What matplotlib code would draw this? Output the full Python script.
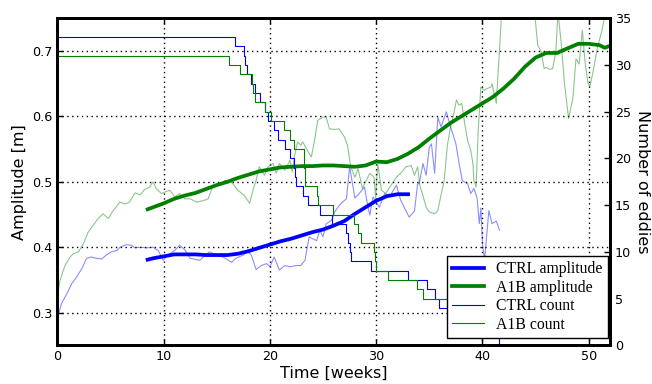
import matplotlib
matplotlib.use("Agg")
import matplotlib.pyplot as plt

# smoothed amplitudes [m]
ctrl_amp_weeks = [8.5, 9, 10, 11, 12, 13, 14, 15, 16, 17, 18, 19, 20, 21, 22, 23, 24, 25,
                  26, 27, 28, 29, 30, 31, 32, 33]
ctrl_amp = [0.381, 0.383, 0.386, 0.389, 0.389, 0.389, 0.388, 0.388, 0.388, 0.390, 0.394,
            0.399, 0.404, 0.409, 0.413, 0.418, 0.423, 0.427, 0.433, 0.440, 0.451, 0.461,
            0.471, 0.478, 0.481, 0.481]

a1b_amp_weeks = [8.5, 9, 10, 11, 12, 13, 14, 15, 16, 17, 18, 19, 20, 21, 22, 23, 24, 25, 26,
                 27, 28, 29, 30, 31, 32, 33, 34, 35, 36, 37, 38, 39, 40, 41, 42, 43, 44, 45,
                 46, 47, 48, 49, 50, 51, 51.5, 52]
a1b_amp = [0.458, 0.461, 0.467, 0.474, 0.479, 0.483, 0.489, 0.495, 0.500, 0.506, 0.511,
           0.516, 0.519, 0.522, 0.523, 0.524, 0.524, 0.525, 0.525, 0.524, 0.523, 0.525,
           0.531, 0.530, 0.535, 0.543, 0.553, 0.566, 0.578, 0.590, 0.600, 0.610, 0.620,
           0.630, 0.643, 0.658, 0.676, 0.690, 0.697, 0.697, 0.704, 0.711, 0.711, 0.709,
           0.705, 0.708]

# raw amplitudes [m]
ctrl_raw_weeks = [0, 0.4, 0.9, 1.35, 1.8, 2.3, 2.75, 3.2, 3.7, 4.2, 4.6, 5.1, 5.6, 5.9, 6.5,
                  7.0, 7.3, 7.8, 8.4, 9.0, 9.5, 9.95, 10.4, 11.05, 11.5, 12.0, 12.5, 13.4,
                  14.3, 15.0, 15.6, 16.4, 16.8, 17.5, 17.9, 18.25, 18.7, 19.2, 19.7, 20.0,
                  20.4, 20.9, 21.4, 21.9, 22.5, 22.9, 23.3, 23.5, 23.7, 24.0, 24.4, 24.7,
                  25.0, 25.3, 25.8, 26.1, 26.4, 26.7, 27.2, 27.5, 28.0, 28.4, 28.9, 29.2,
                  29.4, 29.7, 30.3, 30.8, 31.3, 31.9, 32.3, 33.1, 33.6, 33.9, 34.05, 34.4,
                  34.7, 35.0, 35.2, 35.5, 35.8, 36.1, 36.6, 37.0, 37.5, 37.8, 38.1, 38.6,
                  38.9, 39.2, 39.5, 39.7, 39.85, 40.0, 40.2, 40.6, 40.9, 41.3, 41.6]
ctrl_raw = [0.291, 0.314, 0.329, 0.344, 0.354, 0.367, 0.383, 0.385, 0.383, 0.382, 0.388,
            0.393, 0.395, 0.400, 0.404, 0.403, 0.399, 0.400, 0.399, 0.400, 0.395, 0.380,
            0.388, 0.395, 0.403, 0.396, 0.383, 0.380, 0.393, 0.388, 0.385, 0.377, 0.383,
            0.388, 0.393, 0.388, 0.366, 0.372, 0.375, 0.370, 0.385, 0.365, 0.372, 0.370,
            0.372, 0.372, 0.380, 0.398, 0.416, 0.413, 0.410, 0.426, 0.416, 0.436, 0.441,
            0.454, 0.461, 0.467, 0.474, 0.523, 0.475, 0.482, 0.492, 0.464, 0.449, 0.477,
            0.461, 0.482, 0.478, 0.495, 0.472, 0.446, 0.455, 0.497, 0.497, 0.528, 0.510,
            0.553, 0.558, 0.513, 0.599, 0.584, 0.607, 0.584, 0.558, 0.528, 0.502, 0.497,
            0.482, 0.490, 0.475, 0.436, 0.460, 0.405, 0.380, 0.456, 0.436, 0.440, 0.426]

a1b_raw_weeks = [0, 0.25, 0.72, 1.2, 1.5, 2.0, 2.44, 2.9, 3.4, 3.85, 4.3, 4.8, 5.26, 5.9,
                 6.36, 6.8, 7.3, 7.8, 8.2, 8.7, 9.0, 9.3, 9.8, 10.2, 10.6, 11.05, 11.5,
                 12.0, 12.5, 13.1, 13.7, 14.2, 14.6, 15.3, 15.75, 16.2, 16.5, 17.0, 17.6,
                 18.1, 18.4, 18.7, 19.0, 19.5, 19.8, 20.3, 20.6, 20.9, 21.4, 21.9, 22.1,
                 22.3, 22.6, 22.9, 23.1, 23.6, 23.9, 24.2, 24.5, 25.0, 25.3, 25.6, 26.1,
                 26.5, 27.0, 27.3, 27.6, 28.0, 28.3, 28.7, 29.0, 29.4, 29.8, 29.95, 30.15,
                 30.5, 30.9, 31.4, 31.9, 32.3, 32.8, 33.3, 33.6, 33.9, 34.1, 34.4, 34.7,
                 35.0, 35.5, 35.8, 36.1, 36.4, 36.7, 37.0, 37.3, 37.55, 37.8, 38.05, 38.3,
                 38.6, 38.9, 39.1, 39.2, 39.4, 39.6, 39.85, 40.15, 40.5, 40.8, 40.9, 41.3,
                 41.6, 41.8, 42.5, 43.5, 44.5, 44.9, 45.2, 45.5, 45.8, 46.0, 46.3, 46.6,
                 46.9, 47.1, 47.4, 47.7, 48.1, 48.5, 48.8, 49.1, 49.4, 49.65, 49.9, 50.1,
                 50.4, 50.8, 51.2, 51.6, 52]
a1b_raw = [0.324, 0.349, 0.372, 0.385, 0.390, 0.393, 0.405, 0.423, 0.434, 0.444, 0.451,
           0.444, 0.456, 0.469, 0.466, 0.469, 0.483, 0.480, 0.488, 0.492, 0.500, 0.490,
           0.482, 0.485, 0.487, 0.477, 0.482, 0.474, 0.474, 0.469, 0.471, 0.474, 0.492,
           0.495, 0.502, 0.502, 0.497, 0.487, 0.479, 0.467, 0.487, 0.502, 0.523, 0.510,
           0.523, 0.528, 0.513, 0.528, 0.518, 0.533, 0.515, 0.538, 0.561, 0.556, 0.561,
           0.546, 0.538, 0.563, 0.594, 0.599, 0.599, 0.581, 0.580, 0.581, 0.569, 0.556,
           0.523, 0.507, 0.520, 0.490, 0.500, 0.513, 0.507, 0.475, 0.528, 0.487, 0.482,
           0.495, 0.507, 0.513, 0.523, 0.525, 0.510, 0.523, 0.495, 0.479, 0.461, 0.454,
           0.451, 0.456, 0.480, 0.502, 0.556, 0.584, 0.604, 0.625, 0.617, 0.620, 0.592,
           0.563, 0.548, 0.528, 0.502, 0.492, 0.579, 0.645, 0.640, 0.643, 0.645, 0.650,
           0.620, 0.701, 0.760, 0.800, 0.800, 0.800, 0.760, 0.709, 0.700, 0.673, 0.675,
           0.672, 0.673, 0.698, 0.760, 0.714, 0.653, 0.597, 0.627, 0.688, 0.680, 0.732,
           0.683, 0.653, 0.645, 0.668, 0.704, 0.729, 0.760, 0.780]

# number of eddies (step changes)
ctrl_count_weeks = [0, 16.7, 17.55, 17.65, 17.8, 18.2, 18.6, 19.1, 19.5, 19.85, 20.4, 20.8,
                    21.4, 21.9, 22.25, 22.35, 22.45, 23.1, 23.6, 24.7, 25.8, 27.2, 27.35,
                    27.5, 27.6, 29.5, 33.0, 34.8, 35.5, 35.9, 37.5, 39.0, 40.5, 41.6]
ctrl_count = [33, 32, 31, 30, 29, 28, 27, 26, 25, 24, 23, 22, 21, 20, 19, 18, 17, 16, 15,
              14, 13, 12, 11, 10, 9, 8, 7, 6, 5, 4, 3, 2, 1, 0]

a1b_count_weeks = [0, 16.15, 17.2, 18.3, 18.45, 18.6, 19.55, 20.1, 21.3, 21.85, 22.3, 23.2,
                   23.25, 23.3, 23.35, 24.45, 24.55, 25.9, 27.95, 28.3, 28.6, 29.8, 29.9,
                   30.0, 31.15, 33.8, 34.45, 37.0, 38.5, 40.0, 52]
a1b_count = [31, 30, 29, 28, 27, 26, 25, 24, 23, 22, 21, 20, 19, 18, 17, 16, 15, 14, 13,
             12, 11, 10, 9, 8, 7, 6, 5, 4, 3, 2, 2]

plt.rcParams['font.family'] = 'DejaVu Sans'

fig, ax1 = plt.subplots(figsize=(6.52, 3.84), dpi=100)
fig.subplots_adjust(left=0.0879, right=0.9356, bottom=0.1008, top=0.9523)
ax2 = ax1.twinx()

# raw curves (faint)
ax1.plot(ctrl_raw_weeks, ctrl_raw, color='b', lw=0.8, alpha=0.45)
ax1.plot(a1b_raw_weeks, a1b_raw, color='g', lw=0.8, alpha=0.45)

# smoothed curves
l1, = ax1.plot(ctrl_amp_weeks, ctrl_amp, color='b', lw=2.7, label='CTRL amplitude')
l2, = ax1.plot(a1b_amp_weeks, a1b_amp, color='g', lw=2.7, label='A1B amplitude')

# counts on the right axis
l3, = ax2.plot(ctrl_count_weeks, ctrl_count, color='b', lw=0.8, drawstyle='steps-post',
               label='CTRL count')
l4, = ax2.plot(a1b_count_weeks, a1b_count, color='g', lw=0.8, drawstyle='steps-post',
               label='A1B count')

ax1.set_xlim(0, 52)
ax1.set_ylim(0.25, 0.75)
ax2.set_ylim(0, 35)
ax1.set_xticks([0, 10, 20, 30, 40, 50])
ax1.set_yticks([0.3, 0.4, 0.5, 0.6, 0.7])
ax2.set_yticks([0, 5, 10, 15, 20, 25, 30, 35])

ax1.grid(True, linestyle=(0, (1, 2.5)), color='k', linewidth=1)

ax1.tick_params(direction='in', length=4, width=1, labelsize=9.2, top=True, right=False)
ax2.tick_params(direction='in', length=4, width=1, labelsize=9.2)
for ax in (ax1, ax2):
    for sp in ax.spines.values():
        sp.set_linewidth(2)

ax1.set_xlabel('Time [weeks]', fontsize=11.5, labelpad=2)
ax1.set_ylabel('Amplitude [m]', fontsize=11.5)
ax2.set_ylabel('Number of eddies', fontsize=11.5, rotation=270, va='bottom', labelpad=3)

leg = ax2.legend(handles=[l1, l2, l3, l4], loc='lower right',
                 bbox_to_anchor=(0.9964, 0.0223), borderaxespad=0,
                 fancybox=False, framealpha=1, edgecolor='k',
                 prop={'family': 'Liberation Serif', 'size': 11.3},
                 labelspacing=0.15, handlelength=2.0, borderpad=0.35)
leg.get_frame().set_linewidth(1)

fig.savefig('out.png', dpi=100)
